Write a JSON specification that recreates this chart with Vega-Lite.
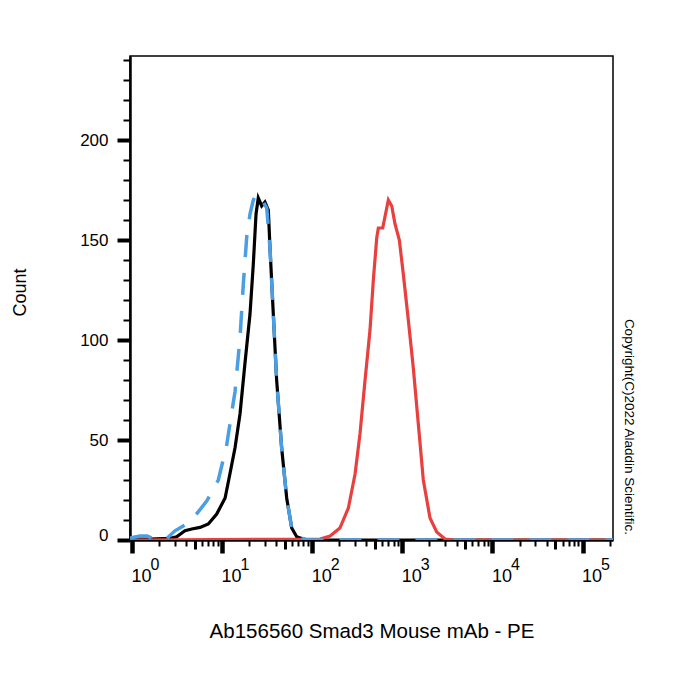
{
  "$schema": "https://vega.github.io/schema/vega-lite/v6.json",
  "width": 483,
  "height": 484,
  "autosize": "none",
  "padding": {"left": 130, "top": 56, "right": 87, "bottom": 160},
  "background": "white",
  "config": {
    "font": "Liberation Sans",
    "view": {"stroke": "#000", "strokeWidth": 1.5}
  },
  "title": {
    "text": "Copyright(C)2022 Aladdin Scientific.",
    "orient": "right",
    "anchor": "end",
    "frame": "group",
    "fontSize": 13.5,
    "fontWeight": "normal",
    "color": "#000",
    "offset": -5,
    "dx": -5,
    "baseline": "bottom"
  },
  "datasets": {
    "hist": [
      {"s": "black", "fl": 0.95, "count": 0.5},
      {"s": "black", "fl": 1.58, "count": 0.5},
      {"s": "black", "fl": 2.64, "count": 0.8},
      {"s": "black", "fl": 3.13, "count": 1.6},
      {"s": "black", "fl": 3.87, "count": 4.6},
      {"s": "black", "fl": 4.6, "count": 5.5},
      {"s": "black", "fl": 5.69, "count": 6.3},
      {"s": "black", "fl": 7.03, "count": 8},
      {"s": "black", "fl": 8.71, "count": 13},
      {"s": "black", "fl": 10.8, "count": 21},
      {"s": "black", "fl": 12.2, "count": 33},
      {"s": "black", "fl": 13.9, "count": 46},
      {"s": "black", "fl": 15.8, "count": 63},
      {"s": "black", "fl": 17.9, "count": 88},
      {"s": "black", "fl": 20.4, "count": 113},
      {"s": "black", "fl": 22.2, "count": 138},
      {"s": "black", "fl": 23.8, "count": 163},
      {"s": "black", "fl": 25.2, "count": 171},
      {"s": "black", "fl": 27.5, "count": 167},
      {"s": "black", "fl": 29.9, "count": 169},
      {"s": "black", "fl": 32.6, "count": 165},
      {"s": "black", "fl": 34.0, "count": 146},
      {"s": "black", "fl": 37.0, "count": 113},
      {"s": "black", "fl": 40.3, "count": 80},
      {"s": "black", "fl": 45.8, "count": 46},
      {"s": "black", "fl": 52.1, "count": 21},
      {"s": "black", "fl": 59.2, "count": 6},
      {"s": "black", "fl": 67.3, "count": 1.6},
      {"s": "black", "fl": 79.1, "count": 0.5},
      {"s": "black", "fl": 95, "count": 0},
      {"s": "black", "fl": 218000, "count": 0},

      {"s": "red", "fl": 0.95, "count": 0},
      {"s": "red", "fl": 122, "count": 0.5},
      {"s": "red", "fl": 158, "count": 2},
      {"s": "red", "fl": 203, "count": 6},
      {"s": "red", "fl": 252, "count": 16},
      {"s": "red", "fl": 299, "count": 33},
      {"s": "red", "fl": 339, "count": 53},
      {"s": "red", "fl": 386, "count": 80},
      {"s": "red", "fl": 438, "count": 105},
      {"s": "red", "fl": 477, "count": 130},
      {"s": "red", "fl": 520, "count": 151},
      {"s": "red", "fl": 542, "count": 156},
      {"s": "red", "fl": 606, "count": 156},
      {"s": "red", "fl": 700, "count": 170},
      {"s": "red", "fl": 763, "count": 167},
      {"s": "red", "fl": 830, "count": 158},
      {"s": "red", "fl": 927, "count": 150},
      {"s": "red", "fl": 1026, "count": 133},
      {"s": "red", "fl": 1166, "count": 110},
      {"s": "red", "fl": 1325, "count": 86},
      {"s": "red", "fl": 1506, "count": 58},
      {"s": "red", "fl": 1711, "count": 30},
      {"s": "red", "fl": 2029, "count": 11},
      {"s": "red", "fl": 2409, "count": 4},
      {"s": "red", "fl": 2977, "count": 0.5},
      {"s": "red", "fl": 3846, "count": 0},
      {"s": "red", "fl": 218000, "count": 0},

      {"s": "blue", "fl": 0.95, "count": 1},
      {"s": "blue", "fl": 1.08, "count": 1.5},
      {"s": "blue", "fl": 1.23, "count": 2},
      {"s": "blue", "fl": 1.47, "count": 2},
      {"s": "blue", "fl": 1.67, "count": 1},
      {"s": "blue", "fl": 2.05, "count": 0.3},
      {"s": "blue", "fl": 2.4, "count": 0.5},
      {"s": "blue", "fl": 3.0, "count": 4.6},
      {"s": "blue", "fl": 3.87, "count": 7.5},
      {"s": "blue", "fl": 5.0, "count": 12},
      {"s": "blue", "fl": 6.75, "count": 19.5},
      {"s": "blue", "fl": 9.07, "count": 30},
      {"s": "blue", "fl": 11.2, "count": 47},
      {"s": "blue", "fl": 12.8, "count": 64},
      {"s": "blue", "fl": 13.9, "count": 74},
      {"s": "blue", "fl": 15.8, "count": 101},
      {"s": "blue", "fl": 17.2, "count": 128},
      {"s": "blue", "fl": 18.8, "count": 152},
      {"s": "blue", "fl": 20.4, "count": 163},
      {"s": "blue", "fl": 22.2, "count": 170},
      {"s": "blue", "fl": 24.2, "count": 173},
      {"s": "blue", "fl": 27.5, "count": 170.5},
      {"s": "blue", "fl": 31.3, "count": 166},
      {"s": "blue", "fl": 34.0, "count": 146},
      {"s": "blue", "fl": 37.0, "count": 113},
      {"s": "blue", "fl": 40.3, "count": 80},
      {"s": "blue", "fl": 45.8, "count": 46},
      {"s": "blue", "fl": 52.1, "count": 21},
      {"s": "blue", "fl": 59.2, "count": 6},
      {"s": "blue", "fl": 69.5, "count": 1.5},
      {"s": "blue", "fl": 83.2, "count": 0.3},
      {"s": "blue", "fl": 100, "count": 0},
      {"s": "blue", "fl": 218000, "count": 0}
    ]
  },
  "data": {"name": "hist"},
  "encoding": {
    "x": {
      "field": "fl",
      "type": "quantitative",
      "scale": {"type": "log", "domain": [0.95, 218000], "nice": false}
    },
    "y": {
      "field": "count",
      "type": "quantitative",
      "scale": {"domain": [0, 242], "nice": false, "zero": false},
      "axis": {
        "values": [0, 10, 20, 30, 40, 50, 60, 70, 80, 90, 100, 110, 120, 130, 140, 150, 160, 170, 180, 190, 200, 210, 220, 230, 240],
        "labelExpr": "datum.value % 50 == 0 ? datum.label : ''",
        "labelFontSize": 17,
        "labelColor": "#000",
        "labelPadding": 9,
        "labelOverlap": false,
        "labelBaseline": {"condition": {"test": "datum.value == 0", "value": "alphabetic"}, "value": "middle"},
        "tickColor": "#000",
        "tickCap": "butt",
        "tickSize": {"condition": {"test": "datum.value % 50 == 0", "value": 13}, "value": 7},
        "tickWidth": {"condition": {"test": "datum.value % 50 == 0", "value": 4}, "value": 2},
        "domainColor": "#000",
        "domainWidth": 2.5,
        "grid": false,
        "title": "Count",
        "titleFontSize": 18,
        "titleFontWeight": "normal",
        "titleColor": "#000",
        "titleAngle": -90,
        "titleX": -110,
        "titleY": 236,
        "titleAlign": "center",
        "titleBaseline": "middle"
      }
    }
  },
  "layer": [
    {
      "transform": [{"filter": "datum.s == 'black'"}],
      "mark": {"type": "line", "color": "#000000", "strokeWidth": 3.2, "clip": true},
      "encoding": {
        "x": {
          "field": "fl",
          "type": "quantitative",
          "scale": {"type": "log", "domain": [0.95, 218000], "nice": false},
          "axis": {
            "orient": "bottom",
            "values": [1, 2, 3, 4, 5, 6, 7, 8, 9, 10, 20, 30, 40, 50, 60, 70, 80, 90, 100, 200, 300, 400, 500, 600, 700, 800, 900, 1000, 2000, 3000, 4000, 5000, 6000, 7000, 8000, 9000, 10000, 20000, 30000, 40000, 50000, 60000, 70000, 80000, 90000, 100000, 200000],
            "labelExpr": "indexof([1, 10, 100, 1000, 10000, 100000], datum.value) >= 0 ? '10' : ''",
            "labelAlign": "left",
            "labelOffset": -1,
            "labelFontSize": 18,
            "labelColor": "#000",
            "labelPadding": 14,
            "labelOverlap": false,
            "labelFlush": false,
            "labelBound": false,
            "tickColor": "#000",
            "tickCap": "butt",
            "tickSize": {
              "condition": [
                {"test": "indexof([1, 10, 100, 1000, 10000, 100000], datum.value) >= 0", "value": 13},
                {"test": "indexof([5, 50, 500, 5000, 50000], datum.value) >= 0", "value": 9}
              ],
              "value": 6
            },
            "tickWidth": {
              "condition": [
                {"test": "indexof([1, 10, 100, 1000, 10000, 100000], datum.value) >= 0", "value": 4.5},
                {"test": "indexof([5, 50, 500, 5000, 50000], datum.value) >= 0", "value": 3}
              ],
              "value": 2
            },
            "domainColor": "#000",
            "domainWidth": 2.5,
            "grid": false,
            "title": "Ab156560 Smad3 Mouse mAb - PE",
            "titleFontSize": 20.5,
            "titleFontWeight": "normal",
            "titleColor": "#000",
            "titleY": 97,
            "titleBaseline": "alphabetic"
          }
        }
      }
    },
    {
      "transform": [{"filter": "datum.s == 'red'"}],
      "mark": {"type": "line", "color": "#e8403f", "strokeWidth": 3.2, "clip": true},
      "encoding": {
        "x": {"field": "fl", "type": "quantitative", "scale": {"type": "log", "domain": [0.95, 218000], "nice": false}, "axis": null}
      }
    },
    {
      "transform": [{"filter": "datum.s == 'blue'"}],
      "mark": {"type": "line", "color": "#4a9ee3", "strokeWidth": 3.5, "strokeDash": [22, 16], "clip": true},
      "encoding": {
        "x": {
          "field": "fl",
          "type": "quantitative",
          "scale": {"type": "log", "domain": [0.95, 218000], "nice": false},
          "axis": {
            "orient": "bottom",
            "values": [1, 10, 100, 1000, 10000, 100000],
            "labelExpr": "'' + indexof([1, 10, 100, 1000, 10000, 100000], datum.value)",
            "ticks": false,
            "domain": false,
            "grid": false,
            "labelAlign": "left",
            "labelOffset": 18,
            "labelPadding": 16,
            "labelFontSize": 16,
            "labelColor": "#000",
            "labelOverlap": false,
            "labelFlush": false,
            "labelBound": false,
            "title": null
          }
        }
      }
    }
  ],
  "resolve": {"axis": {"x": "independent"}}
}
